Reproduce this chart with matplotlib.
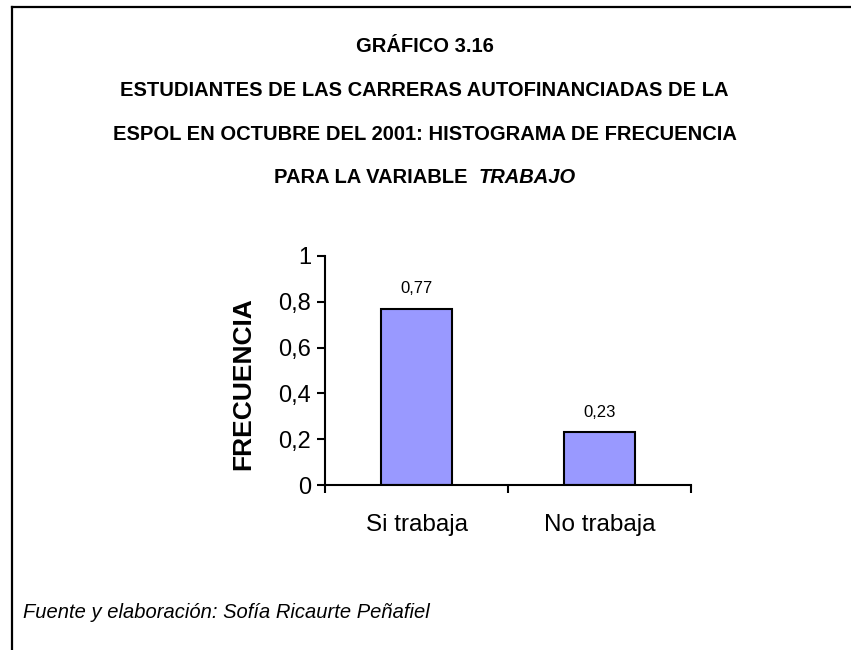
import numpy as np
import matplotlib
matplotlib.use('Agg')
from matplotlib import pyplot as plt
from matplotlib.lines import Line2D

categorias = ['Si trabaja', 'No trabaja']
frecuencia = [0.77, 0.23]
etiquetas = ['0,77', '0,23']
yticks = [0, 0.2, 0.4, 0.6, 0.8, 1]
ytick_labels = ['0', '0,2', '0,4', '0,6', '0,8', '1']

titulo = ['GRÁFICO 3.16',
          'ESTUDIANTES DE LAS CARRERAS AUTOFINANCIADAS DE LA',
          'ESPOL EN OCTUBRE DEL 2001: HISTOGRAMA DE FRECUENCIA']
titulo_final = 'PARA LA VARIABLE'
titulo_var = 'TRABAJO'
fuente = 'Fuente y elaboración: Sofía Ricaurte Peñafiel'

plt.rcParams['font.family'] = ['Liberation Sans', 'DejaVu Sans']

fig = plt.figure(figsize=(8.51, 6.5), dpi=100)
ax = fig.add_axes([325/851, 1-485/650, 366/851, 229/650])

x = np.arange(len(categorias))
ax.bar(x, frecuencia, width=0.39, color='#9999FF', edgecolor='black', linewidth=1.5)
for xi, v, lab in zip(x, frecuencia, etiquetas):
    ax.annotate(lab, (xi, v), xytext=(0, 9), textcoords='offset points',
                ha='center', va='bottom', fontsize=12)

ax.set_xlim(-0.5, 1.5)
ax.set_ylim(0, 1)
ax.set_yticks(yticks)
ax.set_yticklabels(ytick_labels, fontsize=17)
ax.set_xticks(x)
ax.set_xticklabels(categorias, fontsize=17.5)
ax.set_xticks([-0.5, 0.5, 1.5], minor=True)
ax.tick_params(axis='x', which='major', length=0, pad=21)
ax.tick_params(axis='x', which='minor', length=6, width=1.5, direction='out')
ax.tick_params(axis='y', length=6, width=1.5, direction='out', pad=4)
for s in ['top', 'right']:
    ax.spines[s].set_visible(False)
for s in ['left', 'bottom']:
    ax.spines[s].set_linewidth(1.5)

fig.text(243/851, 1-384/650, 'FRECUENCIA', rotation=90, fontsize=19,
         fontweight='bold', ha='center', va='center')

ys = [47, 91, 134]
for t, yy in zip(titulo, ys):
    fig.text(0.499, 1-yy/650, t, fontsize=14.5, fontweight='bold',
             ha='center', va='center')

# last title line: normal bold + bold italic word
renderer = fig.canvas.get_renderer()
t1 = fig.text(0, 1-177/650, titulo_final + '  ', fontsize=14.5, fontweight='bold',
              ha='left', va='center')
t2 = fig.text(0, 1-177/650, titulo_var, fontsize=14.5, fontweight='bold',
              style='italic', ha='left', va='center')
w1 = t1.get_window_extent(renderer).width
w2 = t2.get_window_extent(renderer).width
x0 = 0.499*851 - (w1 + w2)/2
t1.set_x(x0/851)
t2.set_x((x0 + w1)/851)

fig.text(23/851, 1-612/650, fuente, fontsize=14.5, style='italic',
         ha='left', va='center')

fig.add_artist(Line2D([12/851, 12/851], [0, 1-7/650], transform=fig.transFigure,
                      color='black', linewidth=1.6))
fig.add_artist(Line2D([12/851, 1], [1-7/650, 1-7/650], transform=fig.transFigure,
                      color='black', linewidth=1.6))

fig.savefig('out.png', dpi=100)
